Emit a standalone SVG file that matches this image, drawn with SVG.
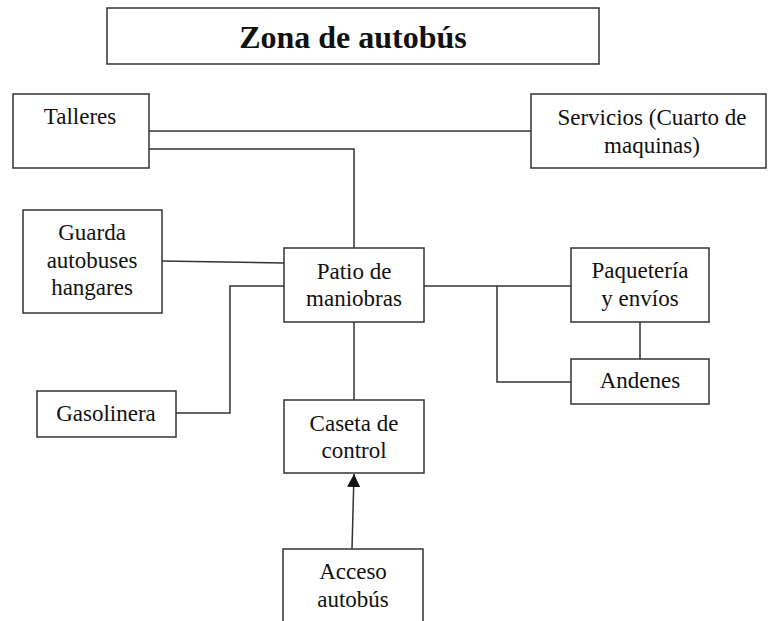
<svg xmlns="http://www.w3.org/2000/svg" width="768" height="621" viewBox="0 0 768 621">
<style>
.box{fill:#fff;stroke:#333;stroke-width:1.5}
.t{font-family:"Liberation Serif","Times New Roman",serif;font-size:23px;fill:#111;text-anchor:middle}
.title{font-family:"Liberation Serif","Times New Roman",serif;font-size:32px;font-weight:bold;fill:#111;text-anchor:middle}
.c{fill:none;stroke:#333;stroke-width:1.5}
</style>
<defs>
<marker id="ah" viewBox="0 0 10 10" refX="10" refY="5" markerWidth="13" markerHeight="13" markerUnits="userSpaceOnUse" orient="auto">
<path d="M0,0 L10,5 L0,10 Z" fill="#111"/>
</marker>
</defs>
<rect width="768" height="621" fill="#fff"/>
<g id="connectors">
<path class="c" d="M149,131 H531"/>
<path class="c" d="M149,149 H354 V248"/>
<path class="c" d="M162,261 L284,263"/>
<path class="c" d="M284,286 H230 V413 H176"/>
<path class="c" d="M424,286 H571"/>
<path class="c" d="M497,286 V382 H571"/>
<path class="c" d="M640,322 V359"/>
<path class="c" d="M354,322 V400"/>
<path class="c" d="M352,549 L354,474" marker-end="url(#ah)"/>
</g>
<g id="title">
<rect class="box" x="107" y="8" width="492" height="56"/>
<text class="title" x="353" y="48">Zona de autobús</text>
</g>
<g id="talleres">
<rect class="box" x="13" y="94" width="136" height="74"/>
<text class="t" x="80" y="124">Talleres</text>
</g>
<g id="servicios">
<rect class="box" x="531" y="94" width="235" height="74"/>
<text class="t" x="652" y="125">Servicios (Cuarto de</text>
<text class="t" x="652" y="153">maquinas)</text>
</g>
<g id="guarda">
<rect class="box" x="23" y="210" width="139" height="103"/>
<text class="t" x="92" y="240">Guarda</text>
<text class="t" x="92" y="268">autobuses</text>
<text class="t" x="92" y="295">hangares</text>
</g>
<g id="patio">
<rect class="box" x="284" y="248" width="140" height="74"/>
<text class="t" x="354" y="279">Patio de</text>
<text class="t" x="354" y="306">maniobras</text>
</g>
<g id="paqueteria">
<rect class="box" x="571" y="248" width="138" height="74"/>
<text class="t" x="640" y="278">Paquetería</text>
<text class="t" x="640" y="306">y envíos</text>
</g>
<g id="andenes">
<rect class="box" x="571" y="359" width="138" height="45"/>
<text class="t" x="640" y="388">Andenes</text>
</g>
<g id="gasolinera">
<rect class="box" x="37" y="391" width="139" height="46"/>
<text class="t" x="106" y="421">Gasolinera</text>
</g>
<g id="caseta">
<rect class="box" x="284" y="400" width="140" height="73"/>
<text class="t" x="354" y="431">Caseta de</text>
<text class="t" x="354" y="458">control</text>
</g>
<g id="acceso">
<rect class="box" x="283" y="549" width="140" height="80"/>
<text class="t" x="353" y="579">Acceso</text>
<text class="t" x="353" y="607">autobús</text>
</g>
</svg>
